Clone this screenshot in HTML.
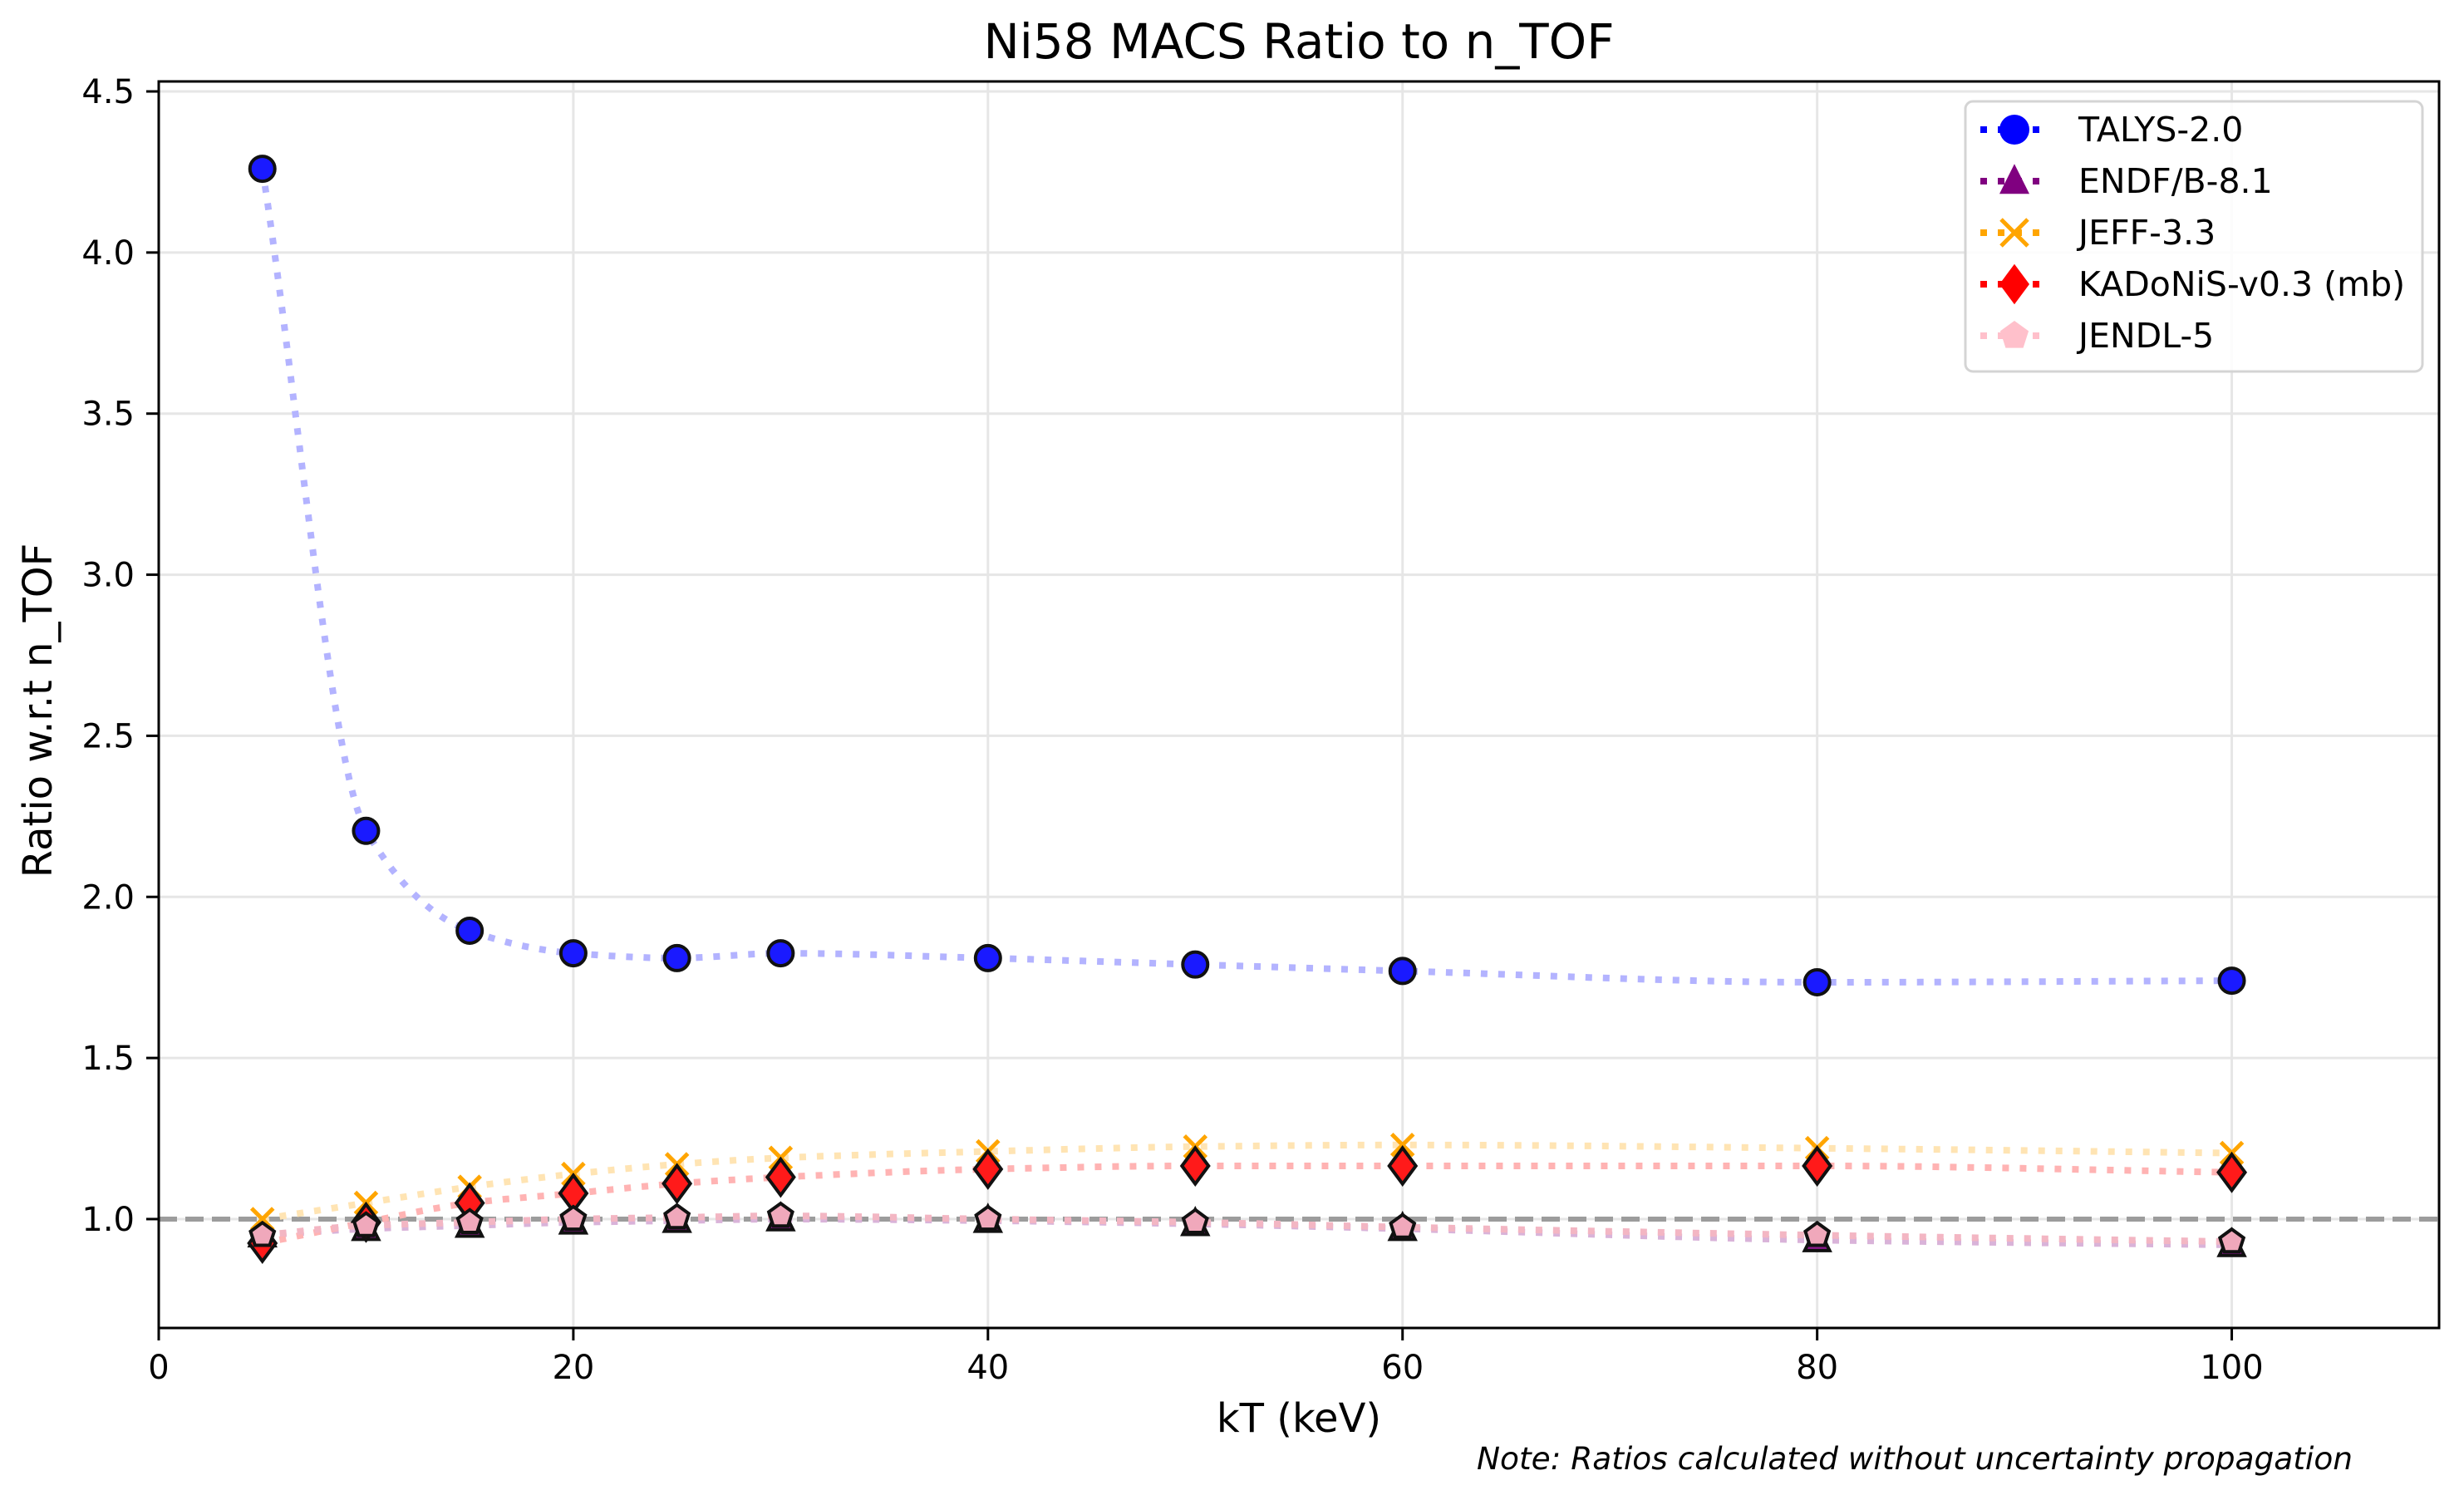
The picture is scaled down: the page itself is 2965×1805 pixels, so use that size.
<!DOCTYPE html>
<html><head><meta charset="utf-8"><style>
html,body{margin:0;padding:0;background:#fff;}
svg{display:block;font-family:"DejaVu Sans","Liberation Sans",sans-serif;}
</style></head><body>
<svg id="chart" width="2965" height="1805" viewBox="0 0 2965 1805" xmlns="http://www.w3.org/2000/svg">
<rect width="2965" height="1805" fill="#fff"/>
<g id="grid"></g>
<g id="series"></g>
<rect x="191" y="98" width="2744" height="1500" fill="none" stroke="#000" stroke-width="3"/>
<g id="axes"></g>
<text x="1563" y="70" font-size="58" text-anchor="middle" textLength="759" lengthAdjust="spacingAndGlyphs">Ni58 MACS Ratio to n_TOF</text>
<text x="1563" y="1723" font-size="48" text-anchor="middle">kT (keV)</text>
<text transform="translate(62,855) rotate(-90)" font-size="48" text-anchor="middle">Ratio w.r.t n_TOF</text>
<text x="1777" y="1768" font-size="37" font-style="italic" textLength="1054" lengthAdjust="spacingAndGlyphs">Note: Ratios calculated without uncertainty propagation</text>
<g id="legend"></g>
</svg>
<script>
const kT = [5,10,15,20,25,30,40,50,60,80,100];
const talys = [4.26,2.205,1.895,1.825,1.81,1.825,1.81,1.79,1.77,1.735,1.74];
const endf = [0.95,0.97,0.98,0.99,0.995,1.0,0.995,0.985,0.97,0.935,0.92];
const jeff = [1.0,1.05,1.10,1.14,1.17,1.19,1.21,1.225,1.23,1.22,1.205];
const kadonis = [0.925,0.99,1.05,1.08,1.11,1.13,1.155,1.165,1.165,1.165,1.145];
const jendl = [0.95,0.98,0.99,1.0,1.005,1.01,1.0,0.99,0.975,0.95,0.93];
const xTicks = [0,20,40,60,80,100];
const yTicks = [1.0,1.5,2.0,2.5,3.0,3.5,4.0,4.5];
const seriesNames = ["TALYS-2.0","ENDF/B-8.1","JEFF-3.3","KADoNiS-v0.3 (mb)","JENDL-5"];

const NS="http://www.w3.org/2000/svg";
const X0=191, X1=2935, Y0=1598, Y1=98, xMin=0, xMax=110, yMin=0.662, yMax=4.531;
function xs(v){return X0+(v-xMin)/(xMax-xMin)*(X1-X0);}
function ys(v){return Y0-(v-yMin)/(yMax-yMin)*(Y0-Y1);}
function mk(tag,attrs,parent){const e=document.createElementNS(NS,tag);for(const k in attrs)e.setAttribute(k,attrs[k]);parent.appendChild(e);return e;}

const grid=document.getElementById('grid'), axes=document.getElementById('axes');
xTicks.forEach(t=>{
  const g=mk('line',{x1:xs(t),x2:xs(t),y1:Y1,y2:Y0,stroke:'#e6e6e6','stroke-width':3},grid);
  
  
  const tk=mk('line',{x1:xs(t),x2:xs(t),y1:Y0,y2:Y0+15,stroke:'#000','stroke-width':3},axes);
  
  
  const lb=mk('text',{x:xs(t),y:1659,'font-size':40,'text-anchor':'middle'},axes);
  lb.textContent=String(t);
  
  
});
yTicks.forEach(t=>{
  const g=mk('line',{x1:X0,x2:X1,y1:ys(t),y2:ys(t),stroke:'#e6e6e6','stroke-width':3},grid);
  
  
  const tk=mk('line',{x1:X0-15,x2:X0,y1:ys(t),y2:ys(t),stroke:'#000','stroke-width':3},axes);
  
  
  const lb=mk('text',{x:162,y:ys(t)+14,'font-size':40,'text-anchor':'end'},axes);
  lb.textContent=t.toFixed(1);
  
  
});

const layer=document.getElementById('series');
const ref=mk('line',{x1:X0,x2:X1,y1:ys(1),y2:ys(1),stroke:'#9c9c9c','stroke-width':6,'stroke-dasharray':'22 10'},layer);



function pchipPath(xv,yv){
  const n=xv.length,h=[],d=[],m=new Array(n);
  for(let i=0;i<n-1;i++){h[i]=xv[i+1]-xv[i];d[i]=(yv[i+1]-yv[i])/h[i];}
  m[0]=d[0];m[n-1]=d[n-2];
  for(let i=1;i<n-1;i++){
    if(d[i-1]*d[i]<=0)m[i]=0;
    else{const w1=2*h[i]+h[i-1],w2=h[i]+2*h[i-1];m[i]=(w1+w2)/(w1/d[i-1]+w2/d[i]);}
  }
  let p='M'+xs(xv[0])+','+ys(yv[0]);
  for(let i=0;i<n-1;i++){
    for(let s=1;s<=20;s++){
      const t=s/20,hh=h[i],t2=t*t,t3=t2*t;
      const v=(2*t3-3*t2+1)*yv[i]+(t3-2*t2+t)*hh*m[i]+(-2*t3+3*t2)*yv[i+1]+(t3-t2)*hh*m[i+1];
      p+=' L'+xs(xv[i]+t*hh).toFixed(1)+','+ys(v).toFixed(1);
    }
  }
  return p;
}
function marker(type,cx,cy,r,fill,stroke,parent){
  let e;
  if(type==='o') e=mk('circle',{cx:cx,cy:cy,r:r},parent);
  else if(type==='^') e=mk('polygon',{points:`${cx},${cy-r*1.15} ${cx+r},${cy+r*0.85} ${cx-r},${cy+r*0.85}`},parent);
  else if(type==='D') e=mk('polygon',{points:`${cx},${cy-r*1.35} ${cx+r},${cy} ${cx},${cy+r*1.35} ${cx-r},${cy}`},parent);
  else if(type==='p'){let pts=[];for(let k=0;k<5;k++){const a=-Math.PI/2+k*2*Math.PI/5;pts.push((cx+r*Math.cos(a)).toFixed(1)+','+(cy+r*Math.sin(a)).toFixed(1));}e=mk('polygon',{points:pts.join(' ')},parent);}
  else if(type==='x'){e=mk('path',{d:`M${cx-r},${cy-r} L${cx+r},${cy+r} M${cx-r},${cy+r} L${cx+r},${cy-r}`,stroke:fill,'stroke-width':5,fill:'none'},parent);return e;}
  e.setAttribute('fill',fill);
  if(stroke){e.setAttribute('stroke',stroke);e.setAttribute('stroke-width',4);}
  return e;
}
const defs=[
  {vals:talys,color:'#0000ff',light:'#b3b3ff',m:'o',fill:'#1a1aff',r:15},
  {vals:endf,color:'#800080',light:'#d9b3d9',m:'^',fill:'#8c1a8c',r:15},
  {vals:jeff,color:'#ffa500',light:'#ffe4b3',m:'x',fill:'#ffa500',r:13},
  {vals:kadonis,color:'#ff0000',light:'#ffb3b3',m:'D',fill:'#ff1a1a',r:16},
  {vals:jendl,color:'#ffc0cb',light:'#f3b6c3',m:'p',fill:'#f0a8bb',r:15}
];
defs.forEach((s,si)=>{
  const g=mk('g',{},layer);
  
  
  const ln=mk('path',{d:pchipPath(kT,s.vals),fill:'none',stroke:s.light,'stroke-width':8,'stroke-dasharray':'8 13'},g);
  
  
  kT.forEach((x,i)=>{
    const e=marker(s.m,xs(x),ys(s.vals[i]),s.r,s.fill,s.m==='x'?null:'#111',g);
    
    
  });
});

const lg=document.getElementById('legend');
const box=mk('rect',{x:2365,y:122,width:550,height:325,rx:9,fill:'#fff','fill-opacity':0.85,stroke:'#d4d4d4','stroke-width':3},lg);


defs.forEach((s,i)=>{
  const cy=156+i*62;
  const g=mk('g',{},lg);
  
  
  mk('line',{x1:2383,x2:2455,y1:cy,y2:cy,stroke:s.color,'stroke-width':8,'stroke-dasharray':'8 13'},g);
  marker(s.m,2424,cy,s.m==='x'?16:18,s.color,null,g);
  const t=mk('text',{x:2501,y:cy+14,'font-size':41},g);
  t.textContent=seriesNames[i];
});
</script>
</body></html>
